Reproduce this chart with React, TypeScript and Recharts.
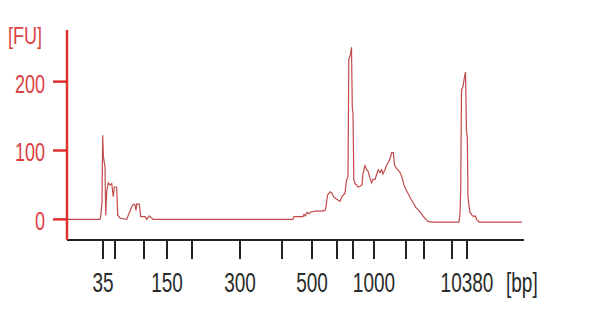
import { Line, LineChart, XAxis, YAxis } from "recharts";

// migration position (run units) and fluorescence [FU]
const runTime = [
  0, 33, 34, 35, 35.7, 36.4, 38, 38.7, 39.7, 41.3, 43, 44.7, 46.3, 47.3, 49.7, 50.7, 53, 59.7, 61.3, 64.7,
  66.3, 68, 69, 69.7, 72.3, 73.7, 78, 79.7, 82.3, 84.7, 86.3, 226, 227, 236, 237, 238.5, 240, 242, 244, 246,
  248, 251, 254, 258, 259, 260.5, 263, 265, 266.5, 269, 271, 273, 275, 278, 279.5, 281, 281.8, 283.5, 284.5,
  285.3, 286, 286.8, 288, 289.7, 291, 293, 295, 296, 298, 299.7, 301, 303, 304.7, 306, 308, 310, 311.3, 313,
  314.7, 316, 318, 319.7, 321.3, 323, 324.7, 326.3, 327.5, 329, 331, 333, 335, 337, 339, 341, 343, 345, 347,
  349, 351, 353, 355, 357, 359, 361, 365, 392, 393, 393.7, 394.5, 396, 397.5, 398.5, 399.5, 400.3, 401, 402,
  403, 405, 406.5, 408, 409.7, 412, 455,
];
const fluorescence = [
  0, 0, 8, 25, 122, 91, 76, 6, 40, 53, 50, 52, 33, 47, 47, 6, 2, 0, 6, 18,
  22, 21, 13, 22, 22, 4, 4, 0, 5, 2, 0, 0, 4, 4, 7, 5, 10, 8, 11, 11,
  12, 12, 12, 13, 18, 35, 40, 38, 33, 30, 28, 26, 33, 38, 57, 62, 232, 240, 250,
  162, 155, 58, 52, 50, 47, 48, 50, 66, 78, 72, 70, 60, 53, 58, 58, 67, 72, 68,
  72, 66, 72, 79, 83, 88, 97, 97, 79, 75, 72, 68, 61, 50, 43, 38, 32, 27, 22,
  17, 14, 11, 7, 3, 0, -3, -4, -4, 8, 42, 188, 193, 207, 214, 127, 120, 33, 20,
  10, 6, 4, 5, 0, -4, -4,
];

// ladder peaks on the x axis
const ladderTime = [36, 48, 77, 100, 125, 173, 215, 245, 270, 286, 307, 339, 357, 385, 400];
const ladderBp = [35, 50, 100, 150, 200, 300, 400, 500, 600, 700, 1000, 2000, 3000, 7000, 10380];
const labeledBp = [35, 150, 300, 500, 1000, 10380];
const fuTicks = [0, 100, 200];

const data = runTime.map((t, i) => ({ t, fu: fluorescence[i] }));

const RED = "#e0302f";
const TEXT_RED = "#dc3f44";
const TEXT_DARK = "#2a2a2a";
const FONT = "'Liberation Sans', Arial, sans-serif";

function BpTick(props: any) {
  const { x, y, payload } = props;
  const idx = ladderTime.indexOf(payload.value);
  const bp = ladderBp[idx];
  if (!labeledBp.includes(bp)) return null;
  return (
    <text
      transform={`translate(${x},${y + 31}) scale(1,1.45)`}
      textAnchor="middle"
      fontFamily={FONT}
      fontSize={19}
      fill={TEXT_DARK}
    >
      {bp}
    </text>
  );
}

function FuTick(props: any) {
  const { x, y, payload } = props;
  return (
    <text
      transform={`translate(${x},${y + 11}) scale(1,1.4)`}
      textAnchor="end"
      fontFamily={FONT}
      fontSize={18}
      fill={TEXT_RED}
    >
      {payload.value}
    </text>
  );
}

export default function App() {
  return (
    <div style={{ position: "absolute", left: 0, top: 0, width: 593, height: 322, background: "#fff" }}>
      <LineChart width={593} height={322} data={data} margin={{ top: 30, right: 69, bottom: 22, left: 0 }}>
        <XAxis
          dataKey="t"
          type="number"
          domain={[0, 457]}
          ticks={ladderTime}
          interval={0}
          height={60}
          tickSize={19}
          axisLine={{ stroke: "#222", strokeWidth: 2 }}
          tickLine={{ stroke: "#222", strokeWidth: 2 }}
          tick={<BpTick />}
        />
        <YAxis
          type="number"
          domain={[-30, 275]}
          ticks={fuTicks}
          allowDataOverflow
          width={67}
          tickSize={14}
          tickMargin={8}
          axisLine={{ stroke: RED, strokeWidth: 2.5 }}
          tickLine={{ stroke: RED, strokeWidth: 2.5 }}
          tick={<FuTick />}
        />
        <Line
          type="linear"
          dataKey="fu"
          stroke="#c24b4b"
          strokeWidth={1.2}
          dot={false}
          isAnimationActive={false}
        />
      </LineChart>
      <svg width={593} height={322} style={{ position: "absolute", left: 0, top: 0, pointerEvents: "none" }}>
        <text transform="translate(8,44) scale(1,1.35)" fontFamily={FONT} fontSize={18} fill={TEXT_RED}>
          [FU]
        </text>
        <text transform="translate(506,292) scale(1,1.45)" fontFamily={FONT} fontSize={19} fill={TEXT_DARK}>
          [bp]
        </text>
      </svg>
    </div>
  );
}
